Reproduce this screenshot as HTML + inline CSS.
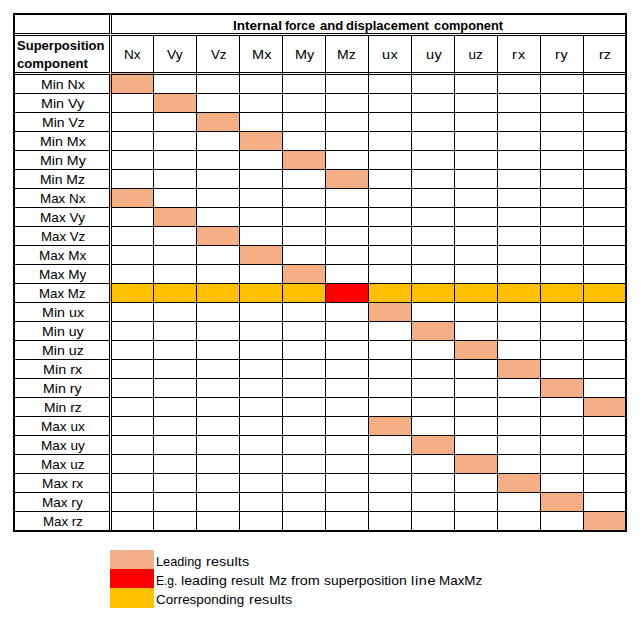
<!DOCTYPE html><html><head><meta charset="utf-8"><title>Superposition table</title><style>
html,body{margin:0;padding:0;background:#fff}
#c{position:relative;width:641px;height:621px;overflow:hidden;background:#fff;font-family:"Liberation Sans",sans-serif;font-size:13.5px;color:#000}
.r{position:absolute}
.t{position:absolute;white-space:nowrap;line-height:13.5px;height:13.5px;transform-origin:0 0;}
.b{font-weight:bold}
</style></head><body><div id="c">
<div class="r" style="left:111px;top:73px;width:42px;height:20px;background:#F4B084"></div>
<div class="r" style="left:110px;top:73px;width:1px;height:21px;background:#F4B084"></div>
<div class="r" style="left:154px;top:94px;width:42px;height:18px;background:#F4B084"></div>
<div class="r" style="left:197px;top:113px;width:42px;height:18px;background:#F4B084"></div>
<div class="r" style="left:240px;top:132px;width:42px;height:18px;background:#F4B084"></div>
<div class="r" style="left:283px;top:151px;width:42px;height:18px;background:#F4B084"></div>
<div class="r" style="left:326px;top:170px;width:42px;height:18px;background:#F4B084"></div>
<div class="r" style="left:111px;top:189px;width:42px;height:18px;background:#F4B084"></div>
<div class="r" style="left:110px;top:188px;width:1px;height:20px;background:#F4B084"></div>
<div class="r" style="left:154px;top:208px;width:42px;height:18px;background:#F4B084"></div>
<div class="r" style="left:197px;top:227px;width:42px;height:18px;background:#F4B084"></div>
<div class="r" style="left:240px;top:246px;width:42px;height:18px;background:#F4B084"></div>
<div class="r" style="left:283px;top:265px;width:42px;height:18px;background:#F4B084"></div>
<div class="r" style="left:369px;top:303px;width:42px;height:18px;background:#F4B084"></div>
<div class="r" style="left:412px;top:322px;width:42px;height:18px;background:#F4B084"></div>
<div class="r" style="left:455px;top:341px;width:42px;height:18px;background:#F4B084"></div>
<div class="r" style="left:498px;top:360px;width:42px;height:18px;background:#F4B084"></div>
<div class="r" style="left:541px;top:379px;width:42px;height:18px;background:#F4B084"></div>
<div class="r" style="left:584px;top:398px;width:42px;height:18px;background:#F4B084"></div>
<div class="r" style="left:369px;top:417px;width:42px;height:18px;background:#F4B084"></div>
<div class="r" style="left:412px;top:436px;width:42px;height:18px;background:#F4B084"></div>
<div class="r" style="left:455px;top:455px;width:42px;height:18px;background:#F4B084"></div>
<div class="r" style="left:498px;top:474px;width:42px;height:18px;background:#F4B084"></div>
<div class="r" style="left:541px;top:493px;width:42px;height:18px;background:#F4B084"></div>
<div class="r" style="left:584px;top:512px;width:42px;height:18px;background:#F4B084"></div>
<div class="r" style="left:111px;top:284px;width:514px;height:18px;background:#FFC000"></div>
<div class="r" style="left:110px;top:283px;width:1px;height:20px;background:#FFC000"></div>
<div class="r" style="left:326px;top:284px;width:42px;height:18px;background:#FF0000"></div>
<div class="r" style="left:13px;top:13px;width:614px;height:2px;background:#000"></div>
<div class="r" style="left:13px;top:530px;width:614px;height:2px;background:#000"></div>
<div class="r" style="left:13px;top:13px;width:2px;height:519px;background:#000"></div>
<div class="r" style="left:625px;top:13px;width:2px;height:519px;background:#000"></div>
<div class="r" style="left:109px;top:15px;width:1px;height:19px;background:#000"></div>
<div class="r" style="left:111px;top:15px;width:1px;height:19px;background:#000"></div>
<div class="r" style="left:109px;top:15px;width:1px;height:19px;background:#000"></div>
<div class="r" style="left:111px;top:15px;width:1px;height:19px;background:#000"></div>
<div class="r" style="left:109px;top:35px;width:1px;height:38px;background:#000"></div>
<div class="r" style="left:111px;top:35px;width:1px;height:38px;background:#000"></div>
<div class="r" style="left:109px;top:74px;width:1px;height:456px;background:#000"></div>
<div class="r" style="left:111px;top:74px;width:1px;height:456px;background:#000"></div>
<div class="r" style="left:15px;top:33px;width:95px;height:1px;background:#000"></div>
<div class="r" style="left:15px;top:35px;width:95px;height:1px;background:#000"></div>
<div class="r" style="left:15px;top:72px;width:95px;height:1px;background:#000"></div>
<div class="r" style="left:15px;top:74px;width:95px;height:1px;background:#000"></div>
<div class="r" style="left:111px;top:33px;width:514px;height:1px;background:#000"></div>
<div class="r" style="left:111px;top:35px;width:514px;height:1px;background:#000"></div>
<div class="r" style="left:111px;top:72px;width:514px;height:1px;background:#000"></div>
<div class="r" style="left:111px;top:74px;width:514px;height:1px;background:#000"></div>
<div class="r" style="left:153px;top:36px;width:1px;height:494px;background:#000"></div>
<div class="r" style="left:196px;top:36px;width:1px;height:494px;background:#000"></div>
<div class="r" style="left:239px;top:36px;width:1px;height:494px;background:#000"></div>
<div class="r" style="left:282px;top:36px;width:1px;height:494px;background:#000"></div>
<div class="r" style="left:325px;top:36px;width:1px;height:494px;background:#000"></div>
<div class="r" style="left:368px;top:36px;width:1px;height:494px;background:#000"></div>
<div class="r" style="left:411px;top:36px;width:1px;height:494px;background:#000"></div>
<div class="r" style="left:454px;top:36px;width:1px;height:494px;background:#000"></div>
<div class="r" style="left:497px;top:36px;width:1px;height:494px;background:#000"></div>
<div class="r" style="left:540px;top:36px;width:1px;height:494px;background:#000"></div>
<div class="r" style="left:583px;top:36px;width:1px;height:494px;background:#000"></div>
<div class="r" style="left:15px;top:93px;width:94px;height:1px;background:#000"></div>
<div class="r" style="left:112px;top:93px;width:513px;height:1px;background:#000"></div>
<div class="r" style="left:15px;top:112px;width:94px;height:1px;background:#000"></div>
<div class="r" style="left:112px;top:112px;width:513px;height:1px;background:#000"></div>
<div class="r" style="left:15px;top:131px;width:94px;height:1px;background:#000"></div>
<div class="r" style="left:112px;top:131px;width:513px;height:1px;background:#000"></div>
<div class="r" style="left:15px;top:150px;width:94px;height:1px;background:#000"></div>
<div class="r" style="left:112px;top:150px;width:513px;height:1px;background:#000"></div>
<div class="r" style="left:15px;top:169px;width:94px;height:1px;background:#000"></div>
<div class="r" style="left:112px;top:169px;width:513px;height:1px;background:#000"></div>
<div class="r" style="left:15px;top:188px;width:94px;height:1px;background:#000"></div>
<div class="r" style="left:112px;top:188px;width:513px;height:1px;background:#000"></div>
<div class="r" style="left:15px;top:207px;width:94px;height:1px;background:#000"></div>
<div class="r" style="left:112px;top:207px;width:513px;height:1px;background:#000"></div>
<div class="r" style="left:15px;top:226px;width:94px;height:1px;background:#000"></div>
<div class="r" style="left:112px;top:226px;width:513px;height:1px;background:#000"></div>
<div class="r" style="left:15px;top:245px;width:94px;height:1px;background:#000"></div>
<div class="r" style="left:112px;top:245px;width:513px;height:1px;background:#000"></div>
<div class="r" style="left:15px;top:264px;width:94px;height:1px;background:#000"></div>
<div class="r" style="left:112px;top:264px;width:513px;height:1px;background:#000"></div>
<div class="r" style="left:15px;top:283px;width:94px;height:1px;background:#000"></div>
<div class="r" style="left:112px;top:283px;width:513px;height:1px;background:#000"></div>
<div class="r" style="left:15px;top:302px;width:94px;height:1px;background:#000"></div>
<div class="r" style="left:112px;top:302px;width:513px;height:1px;background:#000"></div>
<div class="r" style="left:15px;top:321px;width:94px;height:1px;background:#000"></div>
<div class="r" style="left:112px;top:321px;width:513px;height:1px;background:#000"></div>
<div class="r" style="left:15px;top:340px;width:94px;height:1px;background:#000"></div>
<div class="r" style="left:112px;top:340px;width:513px;height:1px;background:#000"></div>
<div class="r" style="left:15px;top:359px;width:94px;height:1px;background:#000"></div>
<div class="r" style="left:112px;top:359px;width:513px;height:1px;background:#000"></div>
<div class="r" style="left:15px;top:378px;width:94px;height:1px;background:#000"></div>
<div class="r" style="left:112px;top:378px;width:513px;height:1px;background:#000"></div>
<div class="r" style="left:15px;top:397px;width:94px;height:1px;background:#000"></div>
<div class="r" style="left:112px;top:397px;width:513px;height:1px;background:#000"></div>
<div class="r" style="left:15px;top:416px;width:94px;height:1px;background:#000"></div>
<div class="r" style="left:112px;top:416px;width:513px;height:1px;background:#000"></div>
<div class="r" style="left:15px;top:435px;width:94px;height:1px;background:#000"></div>
<div class="r" style="left:112px;top:435px;width:513px;height:1px;background:#000"></div>
<div class="r" style="left:15px;top:454px;width:94px;height:1px;background:#000"></div>
<div class="r" style="left:112px;top:454px;width:513px;height:1px;background:#000"></div>
<div class="r" style="left:15px;top:473px;width:94px;height:1px;background:#000"></div>
<div class="r" style="left:112px;top:473px;width:513px;height:1px;background:#000"></div>
<div class="r" style="left:15px;top:492px;width:94px;height:1px;background:#000"></div>
<div class="r" style="left:112px;top:492px;width:513px;height:1px;background:#000"></div>
<div class="r" style="left:15px;top:511px;width:94px;height:1px;background:#000"></div>
<div class="r" style="left:112px;top:511px;width:513px;height:1px;background:#000"></div>
<div class="r" style="left:110px;top:550px;width:44px;height:19px;background:#F4B187"></div>
<div class="r" style="left:110px;top:569px;width:44px;height:19px;background:#FF0000"></div>
<div class="r" style="left:110px;top:588px;width:44px;height:20px;background:#FFC000"></div>
<div class="t b" style="left:233.10px;top:18.57px;transform:scaleX(1.0032)">Internal</div>
<div class="t b" style="left:285.37px;top:18.57px;transform:scaleX(0.9085)">force</div>
<div class="t b" style="left:319.52px;top:18.57px;transform:scaleX(0.9689)">and</div>
<div class="t b" style="left:346.42px;top:18.57px;transform:scaleX(0.9609)">displacement</div>
<div class="t b" style="left:434.12px;top:18.57px;transform:scaleX(0.9500)">component</div>
<div class="t b" style="left:16.62px;top:38.57px;transform:scaleX(0.9642)">Superposition</div>
<div class="t b" style="left:16.81px;top:56.57px;transform:scaleX(0.9750)">component</div>
<div class="t" style="left:124.00px;top:47.57px;transform:scaleX(1.0033)">Nx</div>
<div class="t" style="left:167.45px;top:47.57px;transform:scaleX(1.0169)">Vy</div>
<div class="t" style="left:211.15px;top:47.57px;transform:scaleX(0.9831)">Vz</div>
<div class="t" style="left:251.63px;top:47.57px;transform:scaleX(1.0700);letter-spacing:0.259px">Mx</div>
<div class="t" style="left:294.63px;top:47.57px;transform:scaleX(1.0687)">My</div>
<div class="t" style="left:337.26px;top:47.57px;transform:scaleX(1.0400)">Mz</div>
<div class="t" style="left:382.33px;top:47.57px;transform:scaleX(1.0700);letter-spacing:0.551px">ux</div>
<div class="t" style="left:425.53px;top:47.57px;transform:scaleX(1.0700);letter-spacing:0.458px">uy</div>
<div class="t" style="left:468.60px;top:47.57px;transform:scaleX(1.0000)">uz</div>
<div class="t" style="left:511.93px;top:47.57px;transform:scaleX(1.0700);letter-spacing:1.028px">rx</div>
<div class="t" style="left:555.13px;top:47.57px;transform:scaleX(1.0700);letter-spacing:0.748px">ry</div>
<div class="t" style="left:599.14px;top:47.57px;transform:scaleX(1.0632)">rz</div>
<div class="t" style="left:40.66px;top:77.57px;transform:scaleX(1.0429)">Min Nx</div>
<div class="t" style="left:40.64px;top:96.57px;transform:scaleX(1.0608)">Min Vy</div>
<div class="t" style="left:41.66px;top:115.57px;transform:scaleX(1.0354)">Min Vz</div>
<div class="t" style="left:39.65px;top:134.57px;transform:scaleX(1.0533)">Min Mx</div>
<div class="t" style="left:39.65px;top:153.57px;transform:scaleX(1.0533)">Min My</div>
<div class="t" style="left:40.07px;top:172.57px;transform:scaleX(1.0323)">Min Mz</div>
<div class="t" style="left:39.81px;top:191.57px;transform:scaleX(0.9910)">Max Nx</div>
<div class="t" style="left:39.79px;top:210.57px;transform:scaleX(1.0104)">Max Vy</div>
<div class="t" style="left:40.82px;top:229.57px;transform:scaleX(0.9827)">Max Vz</div>
<div class="t" style="left:38.90px;top:248.57px;transform:scaleX(0.9978)">Max Mx</div>
<div class="t" style="left:38.90px;top:267.57px;transform:scaleX(0.9978)">Max My</div>
<div class="t" style="left:39.32px;top:286.57px;transform:scaleX(0.9802)">Max Mz</div>
<div class="t" style="left:41.64px;top:305.57px;transform:scaleX(1.0571)">Min ux</div>
<div class="t" style="left:41.65px;top:324.57px;transform:scaleX(1.0468)">Min uy</div>
<div class="t" style="left:41.65px;top:343.57px;transform:scaleX(1.0526)">Min uz</div>
<div class="t" style="left:42.94px;top:362.57px;transform:scaleX(1.0648)">Min rx</div>
<div class="t" style="left:42.95px;top:381.57px;transform:scaleX(1.0479)">Min ry</div>
<div class="t" style="left:43.87px;top:400.57px;transform:scaleX(1.0257)">Min rz</div>
<div class="t" style="left:40.79px;top:419.57px;transform:scaleX(1.0059)">Max ux</div>
<div class="t" style="left:40.79px;top:438.57px;transform:scaleX(1.0059)">Max uy</div>
<div class="t" style="left:40.80px;top:457.57px;transform:scaleX(0.9964)">Max uz</div>
<div class="t" style="left:41.69px;top:476.57px;transform:scaleX(1.0140)">Max rx</div>
<div class="t" style="left:41.70px;top:495.57px;transform:scaleX(1.0038)">Max ry</div>
<div class="t" style="left:43.02px;top:514.57px;transform:scaleX(0.9832)">Max rz</div>
<div class="t" style="left:156.26px;top:554.57px;transform:scaleX(0.9427)">Leading</div>
<div class="t" style="left:206.03px;top:554.57px;transform:scaleX(1.0700);letter-spacing:0.089px">results</div>
<div class="t" style="left:156.31px;top:573.57px;transform:scaleX(0.8874)">E.g.</div>
<div class="t" style="left:180.85px;top:573.57px;transform:scaleX(1.0530)">leading</div>
<div class="t" style="left:230.60px;top:573.57px;transform:scaleX(0.9969)">result</div>
<div class="t" style="left:269.40px;top:573.57px;transform:scaleX(0.9969)">Mz</div>
<div class="t" style="left:291.23px;top:573.57px;transform:scaleX(1.0680)">from</div>
<div class="t" style="left:324.29px;top:573.57px;transform:scaleX(1.0291)">superposition</div>
<div class="t" style="left:410.83px;top:573.57px;transform:scaleX(1.0700);letter-spacing:0.634px">line</div>
<div class="t" style="left:439.21px;top:573.57px;transform:scaleX(0.9940)">MaxMz</div>
<div class="t" style="left:156.05px;top:592.57px;transform:scaleX(0.9954)">Corresponding</div>
<div class="t" style="left:248.63px;top:592.57px;transform:scaleX(1.0700);letter-spacing:0.120px">results</div>
</div></body></html>
